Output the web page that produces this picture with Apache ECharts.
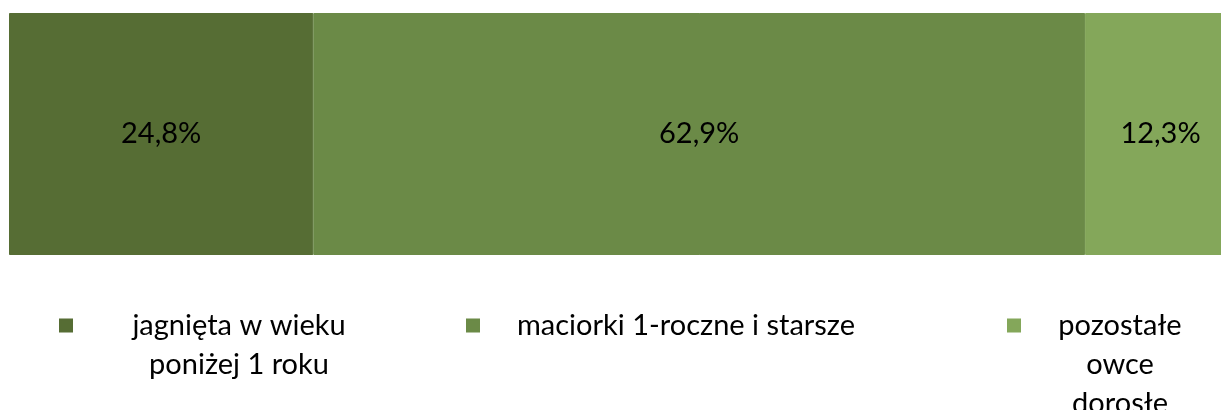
<!DOCTYPE html>
<html>
<head>
<meta charset="utf-8">
<script src="https://cdn.jsdelivr.net/npm/echarts@6/dist/echarts.min.js"></script>
<style>
    html, body { margin: 0; padding: 0; background: #fff; }
    #chart { width: 1221px; height: 410px; }
</style>
</head>
<body>
<div id="chart"></div>
<script>
// dane
const categories = [''];
const seriesNames = ['jagnięta w wieku poniżej 1 roku', 'maciorki 1-roczne i starsze', 'pozostałe owce dorosłe'];
const legendLines = [['jagnięta w wieku', 'poniżej 1 roku'], ['maciorki 1-roczne i starsze'], ['pozostałe', 'owce', 'dorosłe']];
const shares = [24.8, 62.9, 12.3];
const colors = ['#566D34', '#6B8A47', '#84A75A'];

const FONT = 'Lato';
const LINE_H = 39;

// rozmieszczenie legend (ikona + wyśrodkowany tekst)
const legendPos = [
    { left: 59, top: 311, w: 300, pl: 12 },
    { left: 466, top: 311, w: 380, pl: 12 },
    { left: 1007, top: 311, w: 160, pl: 15 }
];

const chart = echarts.init(document.getElementById('chart'), null, { renderer: 'canvas' });

const fmtPct = v => v.toFixed(1).replace('.', ',') + '%';

const legends = seriesNames.map((name, i) => {
    const p = legendPos[i];
    const n = legendLines[i].length;
    return {
        data: [name],
        left: p.left,
        top: p.top,
        padding: 0,
        itemWidth: 12,
        itemHeight: 12,
        icon: 'rect',
        selectedMode: false,
        formatter: () => legendLines[i].map(l => '{c|' + l + '}').join('\n'),
        textStyle: {
            padding: [(n - 1) * LINE_H, 0, 0, p.pl],
            rich: {
                c: {
                    width: p.w,
                    align: 'center',
                    fontFamily: FONT,
                    fontSize: 29,
                    lineHeight: LINE_H,
                    color: '#000'
                }
            }
        }
    };
});

const series = seriesNames.map((name, i) => ({
    name: name,
    type: 'bar',
    stack: 'total',
    barWidth: '100%',
    data: [shares[i]],
    // obramowanie w kolorze wypełnienia zakrywa szparę między segmentami
    itemStyle: { color: colors[i], borderColor: colors[i], borderWidth: 1 },
    emphasis: { disabled: true },
    label: {
        show: true,
        position: 'inside',
        formatter: p => fmtPct(p.value),
        color: '#000',
        fontFamily: FONT,
        fontSize: 29
    }
}));

chart.setOption({
    animation: false,
    backgroundColor: '#fff',
    // pasek wychodzi poza prawą krawędź, jak w oryginale
    grid: { left: 9, width: 1227, top: 13, height: 242, containLabel: false, outerBoundsMode: 'none' },
    xAxis: { type: 'value', min: 0, max: 100, show: false },
    yAxis: { type: 'category', data: categories, show: false },
    legend: legends,
    series: series
});
</script>
</body>
</html>
